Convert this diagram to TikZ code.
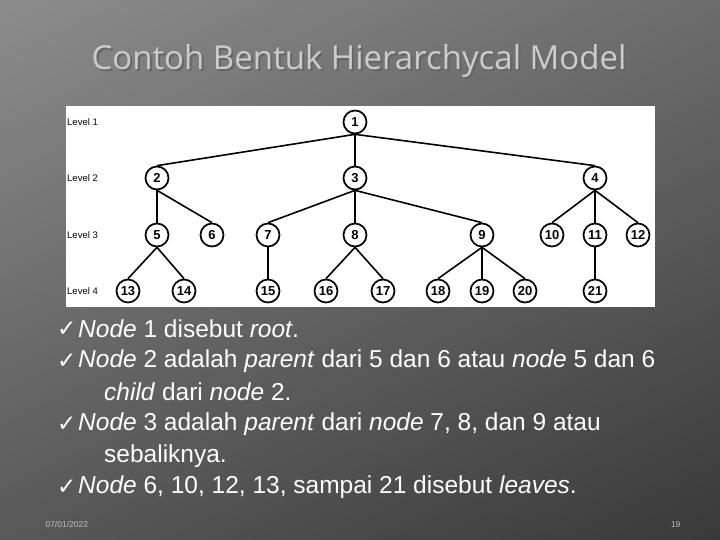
\documentclass[tikz,border=0pt]{standalone}
\usepackage{fontspec}
\setmainfont{Liberation Sans}
\newfontfamily\dv{DejaVu Sans}
\newfontfamily\tf{Open Sans}
\begin{document}
\begin{tikzpicture}[x=1pt,y=-1pt,
  tn/.style={circle,draw,line width=1.7pt,minimum size=23pt,inner sep=0pt,font=\bfseries\fontsize{13}{14}\selectfont,fill=white},
  ed/.style={line width=1.6pt},
  lv/.style={anchor=west,font=\fontsize{9.5}{10}\selectfont,inner sep=1pt},
  bt/.style={anchor=west,text=white,font=\fontsize{24.5}{28}\selectfont,inner sep=1pt},
  ck/.style={anchor=west,text=white,font=\dv\bfseries\fontsize{23}{24}\selectfont,inner sep=1pt},
  ft/.style={text=black!25,font=\fontsize{8.5}{9}\selectfont}]
\useasboundingbox (0,0) rectangle (720,540);
\shade[left color=black!55,right color=black!80] (0,0) rectangle (720,540);
\shade[top color=black!35,bottom color=black!75,opacity=0.5] (0,0) rectangle (720,540);
\node[anchor=center,text=black!60,font=\tf\fontsize{33}{36}\selectfont] (tsh) at (361,63) {Contoh Bentuk Hierarchycal Model};
\node[anchor=center,text=black!20,font=\tf\fontsize{33}{36}\selectfont] (title) at (359,61) {Contoh Bentuk Hierarchycal Model};
\fill[white] (66,106) rectangle (655,307);
\node[lv] (l1) at (66,122) {Level 1};
\node[lv] (l2) at (66,178) {Level 2};
\node[lv] (l3) at (66,235) {Level 3};
\node[lv] (l4) at (66,291) {Level 4};
\foreach \n/\x/\y in {1/355/122,2/157/178,3/355/178,4/595/178,5/157/235,6/212/235,7/268/235,8/355/235,9/482/235,10/552/235,11/595/235,12/638/235,13/128/291,14/184/291,15/268/291,16/326/291,17/383/291,18/438/291,19/482/291,20/525/291,21/595/291}
  \node[tn] (n\n) at (\x,\y) {\n};
\foreach \a/\b in {1/2,1/3,1/4,2/5,2/6,3/7,3/8,3/9,4/10,4/11,4/12,5/13,5/14,7/15,8/16,8/17,9/18,9/19,9/20,11/21}
  \draw[ed] (n\a.south) -- (n\b.north);
\node[ck] (c1) at (56,329) {✓};
\node[bt] (t1) at (77,329) {\textit{Node} 1 disebut \textit{root}.};
\node[ck] (c2) at (56,361) {✓};
\node[bt] (t2) at (77,361) {\textit{Node} 2 adalah \textit{parent} dari 5 dan 6 atau \textit{node} 5 dan 6};
\node[bt] (t2b) at (103,392) {\textit{child} dari \textit{node} 2.};
\node[ck] (c3) at (56,424) {✓};
\node[bt] (t3) at (77,424) {\textit{Node} 3 adalah \textit{parent} dari \textit{node} 7, 8, dan 9 atau};
\node[bt] (t3b) at (103,456) {sebaliknya.};
\node[ck] (c4) at (56,487) {✓};
\node[bt] (t4) at (77,487) {\textit{Node} 6, 10, 12, 13, sampai 21 disebut \textit{leaves}.};
\node[ft,anchor=base west] (date) at (42,527) {07/01/2022};
\node[ft,anchor=base east] (pg) at (684,527) {19};
\end{tikzpicture}
\end{document}
